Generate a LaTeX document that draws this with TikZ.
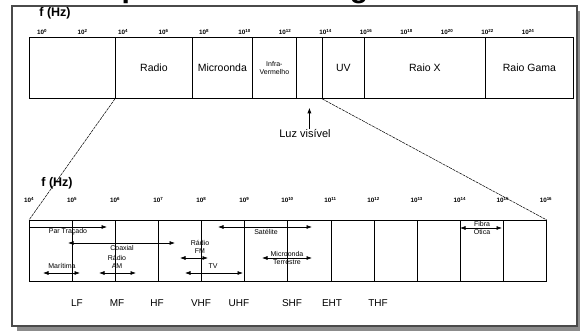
\documentclass[tikz,border=0pt]{standalone}
\usepackage{fontspec}
\setmainfont{Liberation Sans}
\usetikzlibrary{arrows.meta, positioning}
\definecolor{cframe}{HTML}{4A4A4A}
\definecolor{cshade}{HTML}{8C8C8C}
\tikzset{
  every picture/.style={line width=0.8pt},
  cell/.style={draw, minimum height=61pt, inner sep=0pt, anchor=north west, align=center, font=\fontsize{10.5}{12}\selectfont},
  axis/.style={font=\bfseries\fontsize{12.5}{14}\selectfont, inner sep=0pt},
  tick/.style={font=\bfseries\fontsize{6.3}{7}\selectfont, inner sep=0pt},
  lbl/.style={font=\fontsize{7}{8}\selectfont, align=center, inner sep=0pt},
  band/.style={font=\fontsize{10}{12}\selectfont, inner sep=0pt},
  arr/.style={-{Latex[length=5.5pt, width=4pt]}, line width=0.6pt},
  darr/.style={{Latex[length=5.5pt, width=4pt]}-{Latex[length=5.5pt, width=4pt]}, line width=0.6pt},
  guide/.style={line width=0.5pt, dash pattern=on 3pt off 0.8pt},
}
\newcommand{\pw}[1]{10\textsuperscript{#1}}

\begin{document}
\begin{tikzpicture}[x=1pt, y=-1pt]
  \useasboundingbox (0,0) rectangle (580,331);
  % ---------- frame and title
  \fill[cshade] (17,11) rectangle (580,331);
  \draw[cframe, line width=1.2pt, fill=white] (12,6) rectangle (577,326);
  \begin{scope}
    \clip (0,0) rectangle (580,6);
    \node[font=\bfseries\fontsize{30}{32}\selectfont, anchor=base west, inner sep=0pt] (title) at (84.5,-2.5) {Espectro Eletromagnético};
  \end{scope}
  % ---------- full spectrum
  \node[axis] (fa) at (55,13) {f (Hz)};
  \foreach \e [count=\i from 0] in {0,2,...,24} \node[tick] (ta\i) at ({42+40.5*\i},32) {\pw{\e}};
  \foreach \x/\w/\n/\t in {29/86/ext/{}, 115/77/radio/Radio, 192/60/micro/Microonda, 296/26/vis/{}, 322/42/uv/UV, 364/121/xray/Raio X, 485/88/gama/Raio Gama}
    \node[cell, minimum width=\w pt] (\n) at (\x,37) {\t};
  \node[cell, minimum width=44pt, font=\fontsize{7}{8}\selectfont] (infra) at (252,37) {Infra-\\Vermelho};
  \node[font=\fontsize{11}{12}\selectfont, inner sep=0pt] (luz) at (305,134) {Luz visível};
  \draw[arr, shorten >=9pt] (luz.north -| vis.south) -- (vis.south);
  % ---------- radio detail
  \node[axis] (fb) at (57,183) {f (Hz)};
  \foreach \e [count=\i from 0] in {4,...,16} \node[tick] (tb\i) at ({29+43.08*\i},200) {\pw{\e}};
  \foreach \i in {1,...,12} \node[cell, minimum width=43.08pt] (c\i) at ({29+43.08*(\i-1)},220) {};
  \draw[guide] (radio.south west) -- (c1.north west);
  \draw[guide] (uv.south west) -- (c12.north east);
  \draw[arr] (29,227) -- (107,227);
  \node[lbl] (par) at (68,232) {Par Traçado};
  \draw[darr] (68,243) -- (175,243);
  \node[lbl] (coax) at (122,248) {Coaxial};
  \node[lbl] (am) at (117,261.5) {Rádio\\AM};
  \draw[darr] (99,273) -- (136,273);
  \node[lbl] (mar) at (62,266) {Marítima};
  \draw[darr] (43,273) -- (80,273);
  \node[lbl] (fm) at (200,247) {Rádio\\FM};
  \draw[darr] (180,258) -- (208,258);
  \node[lbl] (tv) at (213,266) {TV};
  \draw[darr] (185,273) -- (243,273);
  \draw[darr] (218,227) -- (312,227);
  \node[lbl] (sat) at (266,232) {Satélite};
  \draw[darr] (262,258) -- (312,258);
  \node[lbl] (mw) at (287,258) {Microonda\\Terrestre};
  \draw[darr] (460,228) -- (502,228);
  \node[lbl] (fib) at (482,228) {Fibra\\Ótica};
  \foreach \b/\x in {LF/77, MF/117, HF/157, VHF/201, UHF/239, SHF/292, EHT/332, THF/378} \node[band] (b\b) at (\x,303) {\b};
\end{tikzpicture}
\end{document}
